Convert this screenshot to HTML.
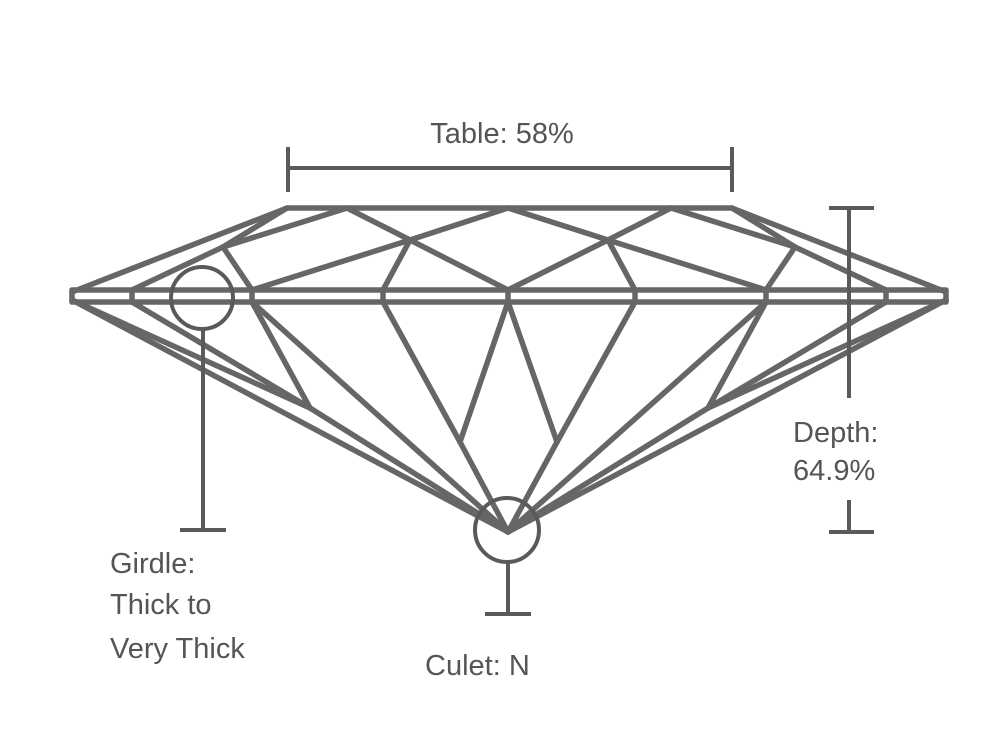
<!DOCTYPE html>
<html><head><meta charset="utf-8"><style>
html,body{margin:0;padding:0;background:#fff;}
svg{display:block;}
text{font-family:"Liberation Sans",sans-serif;font-size:29px;fill:#555;}
</style></head><body>
<svg width="986" height="732" viewBox="0 0 986 732" xmlns="http://www.w3.org/2000/svg">
<g stroke="#666" stroke-width="5.5" fill="none" stroke-linejoin="round" stroke-linecap="round">
<line x1="287" y1="208" x2="732" y2="208"/>
<polyline points="72,290 946,290 946,302 72,302 72,290"/>
<line x1="132" y1="290" x2="132" y2="302"/>
<line x1="252" y1="290" x2="252" y2="302"/>
<line x1="383" y1="290" x2="383" y2="302"/>
<line x1="508" y1="290" x2="508" y2="302"/>
<line x1="635" y1="290" x2="635" y2="302"/>
<line x1="766" y1="290" x2="766" y2="302"/>
<line x1="886" y1="290" x2="886" y2="302"/>
<line x1="287" y1="208" x2="72" y2="292"/>
<line x1="287" y1="208" x2="223" y2="247"/>
<line x1="347" y1="208" x2="223" y2="247"/>
<line x1="223" y1="247" x2="132" y2="290"/>
<line x1="223" y1="247" x2="252" y2="290"/>
<line x1="347" y1="208" x2="410" y2="240"/>
<line x1="410" y1="240" x2="508" y2="290"/>
<line x1="410" y1="240" x2="508" y2="208"/>
<line x1="410" y1="240" x2="252" y2="290"/>
<line x1="410" y1="240" x2="383" y2="290"/>
<line x1="732" y1="208" x2="946" y2="292"/>
<line x1="732" y1="208" x2="795" y2="247"/>
<line x1="671" y1="208" x2="795" y2="247"/>
<line x1="795" y1="247" x2="886" y2="290"/>
<line x1="795" y1="247" x2="766" y2="290"/>
<line x1="671" y1="208" x2="608" y2="240"/>
<line x1="608" y1="240" x2="508" y2="290"/>
<line x1="608" y1="240" x2="508" y2="208"/>
<line x1="608" y1="240" x2="766" y2="290"/>
<line x1="608" y1="240" x2="635" y2="290"/>
<line x1="72" y1="300" x2="508" y2="532"/>
<line x1="946" y1="300" x2="508" y2="532"/>
<line x1="72" y1="300" x2="310" y2="408"/>
<line x1="132" y1="302" x2="310" y2="408"/>
<line x1="252" y1="302" x2="310" y2="408"/>
<line x1="310" y1="408" x2="508" y2="532"/>
<line x1="946" y1="300" x2="708" y2="408"/>
<line x1="886" y1="302" x2="708" y2="408"/>
<line x1="766" y1="302" x2="708" y2="408"/>
<line x1="708" y1="408" x2="508" y2="532"/>
<line x1="252" y1="302" x2="508" y2="532"/>
<line x1="766" y1="302" x2="508" y2="532"/>
<line x1="383" y1="302" x2="460" y2="442"/>
<line x1="508" y1="302" x2="460" y2="442"/>
<line x1="460" y1="442" x2="508" y2="532"/>
<line x1="635" y1="302" x2="557" y2="442"/>
<line x1="508" y1="302" x2="557" y2="442"/>
<line x1="557" y1="442" x2="508" y2="532"/>
</g>
<g stroke="#5a5a5a" stroke-width="4" fill="none">
<line x1="288" y1="147" x2="288" y2="192"/>
<line x1="732" y1="147" x2="732" y2="192"/>
<line x1="288" y1="168" x2="732" y2="168"/>
<line x1="829" y1="208" x2="874" y2="208"/>
<line x1="849" y1="208" x2="849" y2="398"/>
<line x1="829" y1="532" x2="874" y2="532"/>
<line x1="849" y1="500" x2="849" y2="532"/>
<circle cx="202" cy="298" r="31"/>
<line x1="203" y1="330" x2="203" y2="530"/>
<line x1="180" y1="530" x2="226" y2="530"/>
<circle cx="507" cy="530" r="32"/>
<line x1="508" y1="562" x2="508" y2="614"/>
<line x1="485" y1="614" x2="531" y2="614"/>
</g>
<text x="502" y="143" text-anchor="middle">Table: 58%</text>
<text x="793" y="442">Depth:</text>
<text x="793" y="480">64.9%</text>
<text x="110" y="573">Girdle:</text>
<text x="110" y="614">Thick to</text>
<text x="110" y="658">Very Thick</text>
<text x="425" y="675">Culet: N</text>
</svg>
</body></html>
